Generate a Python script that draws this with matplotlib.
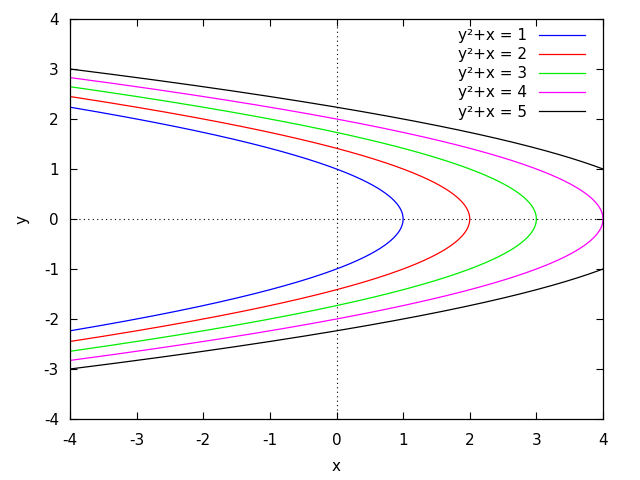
import numpy as np
import matplotlib
matplotlib.use("Agg")
import matplotlib.pyplot as plt

# constants c in y^2 + x = c
consts = [1, 2, 3, 4, 5]
colors = ["#0000ff", "#ff0000", "#00ee00", "#ff00ff", "#000000"]
ticks = [-4, -3, -2, -1, 0, 1, 2, 3, 4]
tick_labels = ["-4", "-3", "-2", "-1", "0", "1", "2", "3", "4"]

plt.rcParams["font.family"] = "DejaVu Sans"
plt.rcParams["font.size"] = 11

fig = plt.figure(figsize=(6.4, 4.8), dpi=100)
ax = fig.add_axes([70 / 640, 61 / 480, 533 / 640, 400 / 480])

y = np.linspace(-4, 4, 2001)
for c, col in zip(consts, colors):
    x = c - y ** 2
    x = np.where((x >= -4) & (x <= 4), x, np.nan)
    ax.plot(x, y, color=col, lw=0.9, label=f"y\u00b2+x = {c}")

ax.axhline(0, color="black", lw=0.8, ls=(0, (1, 3)))
ax.axvline(0, color="black", lw=0.8, ls=(0, (1, 3)))

ax.set_xlim(-4, 4)
ax.set_ylim(-4, 4)
ax.set_xticks(ticks)
ax.set_xticklabels(tick_labels)
ax.set_yticks(ticks)
ax.set_yticklabels(tick_labels)
ax.tick_params(axis="x", direction="in", top=True, length=5, width=0.8, pad=10)
ax.tick_params(axis="y", direction="in", right=True, length=5, width=0.8, pad=8)
for s in ax.spines.values():
    s.set_linewidth(0.9)
ax.set_xlabel("x", labelpad=8)
ax.set_ylabel("y", labelpad=10)

ax.legend(loc="upper right", bbox_to_anchor=(585 / 640, 1 - 28 / 480),
          bbox_transform=fig.transFigure, frameon=False, markerfirst=False,
          handlelength=3.0, labelspacing=0.27, borderaxespad=0.0,
          handletextpad=0.8, borderpad=0.0)

fig.savefig("out.png", dpi=100)
